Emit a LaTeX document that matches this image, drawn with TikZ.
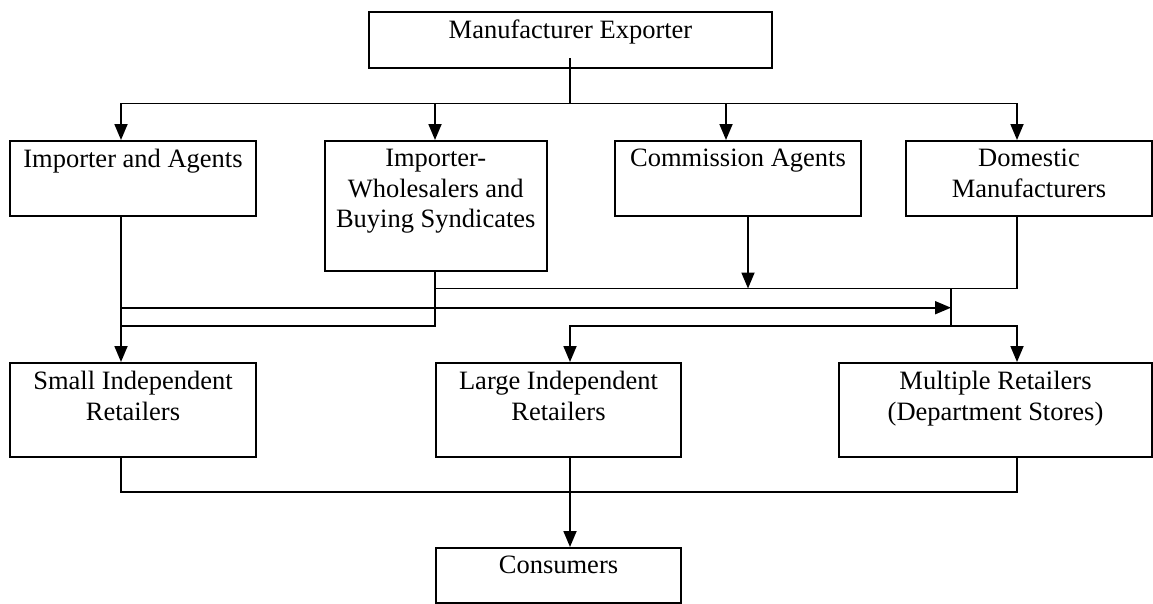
\documentclass[tikz,border=0pt]{standalone}
\usepackage{fontspec}
\setmainfont{Liberation Serif}
\usetikzlibrary{arrows.meta}
\begin{document}
\begin{tikzpicture}[x=1pt,y=-1pt,
  box/.style={draw, line width=2pt, inner sep=0pt, anchor=north west},
  boxtext/.style={anchor=north, align=center, inner sep=0pt, yshift=-9pt,
    font=\fontsize{26.5}{30.5}\selectfont},
  link/.style={line width=1.8pt},
  arr/.style={link, -{Triangle[length=16pt,width=13pt]}}]
\useasboundingbox (0,0) rectangle (1153,603);

% boxes
\node[box, minimum width=403pt, minimum height=55.5pt,
  label={[boxtext]north:Manufacturer Exporter}] (me) at (368,11) {};
\node[box, minimum width=246pt, minimum height=75pt,
  label={[boxtext]north:Importer and Agents}] (ia) at (9,140) {};
\node[box, minimum width=222.5pt, minimum height=130pt,
  label={[boxtext]north:Importer-\\Wholesalers and\\Buying Syndicates}] (iw) at (323.5,140) {};
\node[box, minimum width=246pt, minimum height=75pt,
  label={[boxtext]north:Commission Agents}] (ca) at (614,140) {};
\node[box, minimum width=246pt, minimum height=75pt,
  label={[boxtext]north:Domestic\\Manufacturers}] (dm) at (905,140) {};
\node[box, minimum width=246pt, minimum height=94pt,
  label={[boxtext]north:Small Independent\\Retailers}] (sr) at (9,362) {};
\node[box, minimum width=245pt, minimum height=94pt,
  label={[boxtext]north:Large Independent\\Retailers}] (lr) at (435,362) {};
\node[box, minimum width=313pt, minimum height=94pt,
  label={[boxtext]north:Multiple Retailers\\(Department Stores)}] (mr) at (838,362) {};
\node[box, minimum width=245pt, minimum height=55pt,
  label={[boxtext]north:Consumers}] (co) at (435,547) {};

% connector columns and levels
\coordinate (cA) at (121,0);
\coordinate (cB) at (435,0);
\coordinate (cC) at (726,0);
\coordinate (cE) at (748,0);
\coordinate (cD) at (1017,0);
\coordinate (cM) at (570,0);
\coordinate (cJ) at (951,0);
\coordinate (stem) at (570,58);
\coordinate (bus) at (570,103.5);
\coordinate (L1) at (0,288.5);
\coordinate (L2) at (0,307.7);
\coordinate (L3) at (0,326);
\coordinate (L4) at (0,492);

% exporter to intermediaries
\draw[link] (stem) -- (bus);
\draw[arr] (bus) -| (ia.north -| cA);
\draw[arr] (bus) -| (iw.north -| cB);
\draw[arr] (bus) -| (ca.north -| cC);
\draw[arr] (bus) -| (dm.north -| cD);

% intermediaries to retailers
\draw[arr] (ia.south -| cA) -- (sr.north -| cA);
\draw[link] (iw.south -| cB) |- (cA |- L3);
\draw[link] (dm.south -| cD) |- (cB |- L1);
\draw[arr] (ca.south -| cE) -- (cE |- L1);
\draw[arr] (cA |- L2) -- (cJ |- L2);
\draw[link] (cJ |- L1) -- (cJ |- L3);
\draw[arr] (cJ |- L3) -| (lr.north -| cM);
\draw[arr] (cJ |- L3) -| (mr.north -| cD);

% retailers to consumers
\draw[link] (sr.south -| cA) |- (cD |- L4) -- (mr.south -| cD);
\draw[arr] (lr.south -| cM) -- (co.north -| cM);
\end{tikzpicture}
\end{document}
